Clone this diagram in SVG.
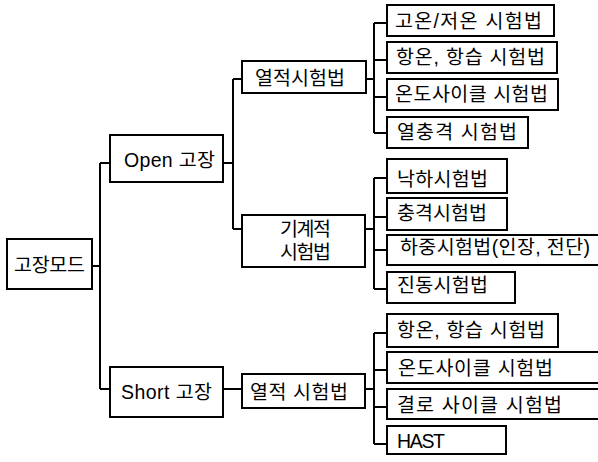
<svg xmlns="http://www.w3.org/2000/svg" width="598" height="462" viewBox="0 0 598 462">
<style>
rect{fill:#fff;stroke:#000;stroke-width:2}
text{font-family:"Liberation Sans","Noto Sans CJK KR",sans-serif;font-size:19.5px;fill:#000}
#connectors path{fill:none;stroke:#000;stroke-width:2}
</style>
<rect x="0" y="0" width="598" height="462" style="stroke:none"/>
<g id="connectors">
<path d="M92 266H100M100 163V389M100 163H110M100 389H110"/>
<path d="M223 163H233M233 79V229M233 79H242M233 229H242"/>
<path d="M223 389H242"/>
<path d="M366 79H374M374 23V133M374 23H387M374 60H387M374 97H387M374 133H387"/>
<path d="M365 229H374M374 178V289M374 178H387M374 217H387M374 250H387M374 289H387"/>
<path d="M365 389H374M374 333V444M374 333H387M374 370H387M374 407H387M374 444H387"/>
</g>
<g id="root"><rect x="7" y="239" width="85" height="50"/><text x="14" y="272" textLength="71" lengthAdjust="spacing">고장모드</text></g>
<g id="open"><rect x="110" y="135" width="113" height="47"/><text x="124" y="167" textLength="91" lengthAdjust="spacing">Open 고장</text></g>
<g id="short"><rect x="110" y="367" width="113" height="50"/><text x="121" y="399" textLength="91" lengthAdjust="spacing">Short 고장</text></g>
<g id="thermal1"><rect x="242" y="61" width="124" height="32"/><text x="255" y="85" textLength="90" lengthAdjust="spacing">열적시험법</text></g>
<g id="mech"><rect x="242" y="215" width="123" height="52"/><text x="280" y="236" textLength="51" lengthAdjust="spacing">기계적</text><text x="280" y="259" textLength="51" lengthAdjust="spacing">시험법</text></g>
<g id="thermal2"><rect x="242" y="374" width="123" height="34"/><text x="250" y="399" textLength="98" lengthAdjust="spacing">열적 시험법</text></g>
<g id="t1"><rect x="387" y="5" width="167" height="31"/><text x="395" y="28" textLength="147" lengthAdjust="spacing">고온/저온 시험법</text></g>
<g id="t2"><rect x="387" y="42" width="170" height="31"/><text x="396" y="64" textLength="149" lengthAdjust="spacing">항온, 항습 시험법</text></g>
<g id="t3"><rect x="387" y="79" width="171" height="31"/><text x="395" y="101" textLength="153" lengthAdjust="spacing">온도사이클 시험법</text></g>
<g id="t4"><rect x="387" y="117" width="141" height="31"/><text x="397" y="139" textLength="120" lengthAdjust="spacing">열충격 시험법</text></g>
<g id="m1"><rect x="387" y="159" width="120" height="34"/><text x="397" y="186" textLength="91" lengthAdjust="spacing">낙하시험법</text></g>
<g id="m2"><rect x="387" y="198" width="120" height="32"/><text x="397" y="220" textLength="90" lengthAdjust="spacing">충격시험법</text></g>
<g id="m3"><rect x="387" y="235" width="215" height="30"/><text x="400" y="254" textLength="190" lengthAdjust="spacing">하중시험법(인장, 전단)</text></g>
<g id="m4"><rect x="387" y="272" width="128" height="31"/><text x="397" y="292" textLength="91" lengthAdjust="spacing">진동시험법</text></g>
<g id="s1"><rect x="387" y="314" width="171" height="33"/><text x="397" y="337" textLength="148" lengthAdjust="spacing">항온, 항습 시험법</text></g>
<g id="s2"><rect x="387" y="352" width="215" height="31"/><text x="398" y="375" textLength="155" lengthAdjust="spacing">온도사이클 시험법</text></g>
<g id="s3"><rect x="387" y="389" width="215" height="30"/><text x="397" y="412" textLength="165" lengthAdjust="spacing">결로 사이클 시험법</text></g>
<g id="s4"><rect x="387" y="426" width="119" height="28"/><text x="397" y="448" textLength="48" lengthAdjust="spacing">HAST</text></g>
</svg>
